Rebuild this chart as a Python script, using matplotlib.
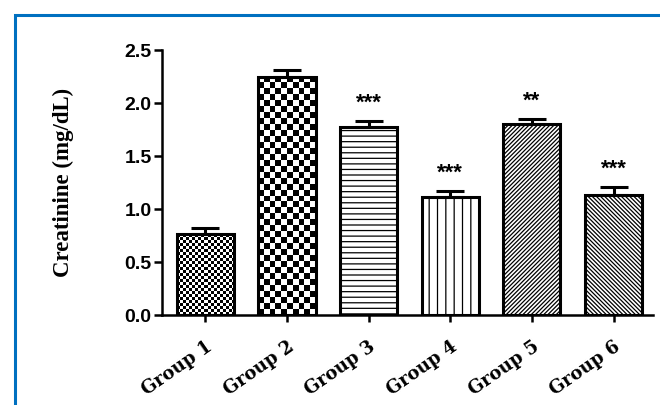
import numpy as np
import matplotlib
matplotlib.use("Agg")
import matplotlib.pyplot as plt
from matplotlib.patches import Rectangle

groups = ["Group 1", "Group 2", "Group 3", "Group 4", "Group 5", "Group 6"]
values = [0.76, 2.25, 1.77, 1.11, 1.80, 1.13]
errors = [0.06, 0.06, 0.06, 0.06, 0.05, 0.08]
stars = ["", "", "***", "***", "**", "***"]
yticks = [0.0, 0.5, 1.0, 1.5, 2.0, 2.5]
ylabel = "Creatinine (mg/dL)"

hatches = ["", "", "---", "||", "////////", "\\" * 8]
checker_cells = [3.0, 6.0, None, None, None, None]

plt.rcParams["hatch.linewidth"] = 0.9
plt.rcParams["hatch.color"] = "black"

fig = plt.figure(figsize=(6.6, 4.05), dpi=100)
ax = fig.add_axes([0.2455, 0.2222, 0.7435, 0.6543])

x = np.arange(len(groups))
bars = ax.bar(x, values, width=0.70, color="white", edgecolor="black",
              linewidth=2.2, zorder=2)
for b, h, c in zip(bars, hatches, checker_cells):
    if h:
        b.set_hatch(h)
    if c is not None:
        b.set_facecolor("none")

ax.set_xlim(-0.53, 5.48)
ax.set_ylim(0, 2.5)

# checker textures for the first two bars
for b, c in zip(bars, checker_cells):
    if c is None:
        continue
    bb = b.get_window_extent()
    nx = max(1, int(round(bb.width / c)))
    ny = max(1, int(round(bb.height / c)))
    arr = np.add.outer(np.arange(ny), np.arange(nx)) % 2
    x0 = b.get_x()
    im = ax.imshow(arr, cmap="gray", extent=(x0, x0 + b.get_width(), 0, b.get_height()),
                   interpolation="nearest", aspect="auto", origin="lower", zorder=1.9)
    im.set_clip_path(b)

ax.set_xlim(-0.53, 5.48)
ax.set_ylim(0, 2.5)
ax.set_aspect("auto")

ax.errorbar(x, values, yerr=[np.zeros(len(values)), errors], fmt="none",
            ecolor="black", elinewidth=2.2, capsize=10, capthick=2.2, zorder=3)

for xi, v, e, s in zip(x, values, errors, stars):
    if s:
        ax.annotate(s, (xi, v + e), xytext=(0, 5), textcoords="offset points",
                    ha="center", va="bottom", fontsize=16, fontweight="bold",
                    family="Liberation Sans", color="black")

for side in ["top", "right"]:
    ax.spines[side].set_visible(False)
for side in ["left", "bottom"]:
    ax.spines[side].set_linewidth(1.8)

ax.set_yticks(yticks)
ax.set_yticklabels([f"{t:.1f}" for t in yticks], fontsize=14, fontweight="bold",
                   family="Liberation Sans")
ax.tick_params(axis="y", length=5.5, width=1.8, pad=2)
ax.set_xticks(x)
ax.set_xticklabels(groups, rotation=35, ha="right", rotation_mode="anchor",
                   fontsize=13, fontweight="bold", family="DejaVu Serif")
ax.tick_params(axis="x", length=5, width=1.8, pad=11)

ax.set_ylabel(ylabel, fontsize=16.5, fontweight="bold", family="Liberation Serif",
              labelpad=36)

fig.patches.append(Rectangle((15 / 660, -0.1), 1.2, (405 - 15) / 405 + 0.1,
                             transform=fig.transFigure, fill=False,
                             edgecolor="#0070C0", linewidth=2.2))

fig.savefig("out.png", dpi=100)
